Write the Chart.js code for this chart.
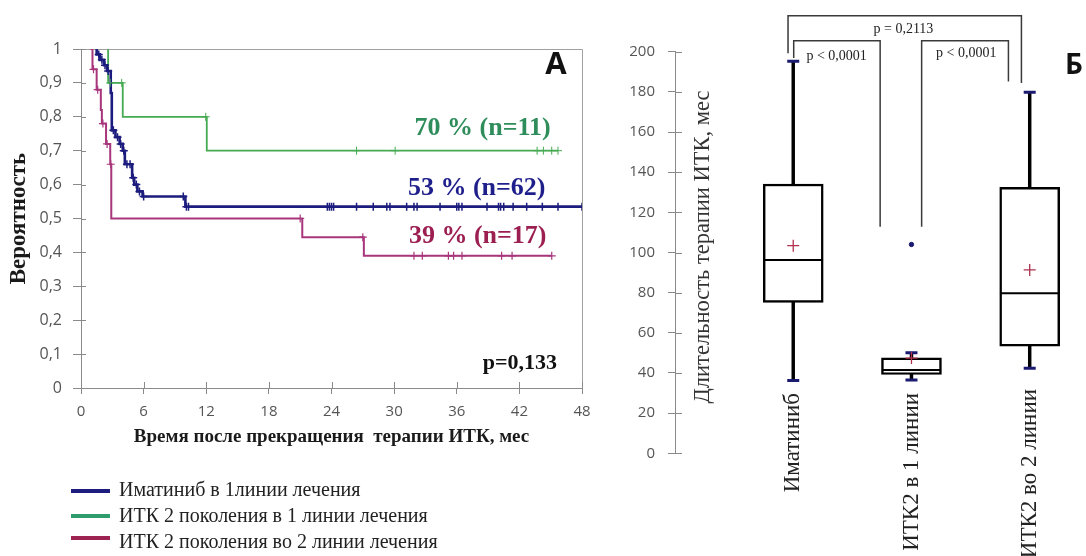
<!DOCTYPE html>
<html><head><meta charset="utf-8">
<script src="https://cdn.jsdelivr.net/npm/chart.js@4.4.1/dist/chart.umd.min.js"></script>
<style>
html,body{margin:0;padding:0;background:#fff;}
#wrap{position:relative;width:1086px;height:556px;overflow:hidden;background:#fff;}
#pa{position:absolute;left:0;top:0;width:600px;height:556px;}
#pb{position:absolute;left:600px;top:0;width:486px;height:556px;}
</style></head><body>
<div id="wrap">
  <div id="pa"><canvas id="cA" width="600" height="556"></canvas></div>
  <div id="pb"><canvas id="cB" width="486" height="556"></canvas></div>
</div>
<script>
// ---------- Panel A data (Kaplan-Meier) ----------
const seriesLabels = ['Иматиниб в 1линии лечения', 'ИТК 2 поколения в 1 линии лечения', 'ИТК 2 поколения во 2 линии лечения'];
const curveNotes = ['53 % (n=62)', '70 % (n=11)', '39 % (n=17)'];
const pNoteA = 'p=0,133';
const panelLetterA = 'A';

const imatTime = [1.5, 1.5, 1.8, 2.2, 2.5, 2.85, 2.95, 3.3, 3.7, 4.0, 4.2, 4.9, 5.1, 5.4, 5.9, 10.0, 48];
const imatSurv = [1.0, 0.984, 0.968, 0.952, 0.935, 0.87, 0.76, 0.74, 0.72, 0.70, 0.66, 0.62, 0.60, 0.58, 0.565, 0.535, 0.535];
const imatCensor = [1.7, 2.0, 2.3, 2.6, 3.1, 3.5, 3.8, 4.1, 4.4, 4.7, 5.0, 5.3, 5.6, 6.0, 9.8, 10.1, 10.3,
  23.6, 23.8, 24.0, 24.2, 26.4, 28.0, 29.3, 29.6, 31.2, 31.9, 32.2, 34.4, 36.0, 36.2, 36.5, 38.9, 40.0, 40.2, 40.5, 41.4, 42.7, 44.2, 45.7, 48];

const gen1Time = [2.6, 2.6, 4.0, 12.05, 45.7];
const gen1Surv = [1.0, 0.9, 0.8, 0.7, 0.7];
const gen1Censor = [2.8, 3.9, 11.95, 26.4, 30.1, 43.7, 44.3, 45.1, 45.7];

const gen2Time = [0.9, 1.1, 1.5, 1.9, 2.0, 2.4, 2.8, 2.9, 21.2, 27.1, 45.1];
const gen2Surv = [1.0, 0.94, 0.88, 0.82, 0.78, 0.72, 0.66, 0.5, 0.445, 0.39, 0.39];
const gen2Censor = [1.2, 1.6, 2.1, 2.5, 2.85, 21.0, 27.0, 31.9, 32.7, 35.2, 35.7, 36.5, 40.3, 41.3, 45.1];

// ---------- Panel B data (box plots) ----------
const categories = ['Иматиниб', 'ИТК2 в 1 линии', 'ИТК2 во 2 линии'];
const boxMin    = [36.2, 36.5, 42.3];
const boxQ1     = [75.2, 39.3, 53.4];
const boxMedian = [96.3, 41.5, 79.7];
const boxQ3     = [134.1, 47.6, 132.5];
const boxMax    = [195.2, 50.1, 179.8];
const boxMean   = [103.4, 47.4, 91.3];
const outlierCat = [2];
const outlierVal = [104];
const pValuesB = ['p = 0,2113', 'p < 0,0001', 'p < 0,0001'];
const yTitleB = 'Длительность терапии ИТК, мес';
const panelLetterB = 'Б';

// ---------- styles ----------
const SERIF = '"Liberation Serif", "DejaVu Serif", serif';
const SANS = '"Open Sans", "Liberation Sans", sans-serif';
const BLUE = '#1c1c7e', GREEN = '#46aa52', MAG = '#a8367c';
const BLUE_T = '#1f1f8c', GREEN_T = '#2f8d5c', MAG_T = '#9c1f52';
const LEG_COL = ['#1d1d80', '#2e9c6c', '#9c2352'];
const AXIS = '#8a8a8a';

function survAt(times, surv, t) {
  let s = surv[0];
  for (let i = 0; i < times.length; i++) if (times[i] <= t) s = surv[i];
  return s;
}
const kmPts = (times, surv) => times.map((t, i) => ({x: t, y: surv[i]}));
const censorPts = (times, surv, cens) => cens.map(t => ({x: t, y: survAt(times, surv, t)}));

const innerTicks = {
  id: 'innerTicks',
  afterDraw(chart, args, opts) {
    const ctx = chart.ctx, ca = chart.chartArea;
    ctx.save(); ctx.strokeStyle = AXIS; ctx.lineWidth = 1;
    if (opts.x) {
      const xs = chart.scales.x;
      xs.ticks.forEach(t => { const px = Math.round(xs.getPixelForValue(t.value)) + 0.5;
        ctx.beginPath(); ctx.moveTo(px, ca.bottom); ctx.lineTo(px, ca.bottom - opts.x); ctx.stroke(); });
    }
    if (opts.y) {
      const ys = chart.scales.y;
      ys.ticks.forEach(t => { const py = Math.round(ys.getPixelForValue(t.value)) + 0.5;
        ctx.beginPath(); ctx.moveTo(ca.left, py); ctx.lineTo(ca.left + opts.y, py); ctx.stroke(); });
    }
    ctx.restore();
  }
};

const frameA = {
  id: 'frameA',
  beforeDatasetsDraw(chart) {
    const ctx = chart.ctx, ca = chart.chartArea;
    ctx.save(); ctx.strokeStyle = '#a0a0a0'; ctx.lineWidth = 1;
    ctx.beginPath();
    ctx.moveTo(Math.round(ca.left) + 0.5, Math.round(ca.top) + 0.5);
    ctx.lineTo(Math.round(ca.right) + 0.5, Math.round(ca.top) + 0.5);
    ctx.lineTo(Math.round(ca.right) + 0.5, Math.round(ca.bottom) + 0.5);
    ctx.stroke(); ctx.restore();
  }
};

const notesA = {
  id: 'notesA',
  afterDraw(chart) {
    const ctx = chart.ctx, xs = chart.scales.x, ys = chart.scales.y;
    ctx.save();
    ctx.textBaseline = 'middle'; ctx.textAlign = 'right';
    ctx.font = 'bold 26px ' + SERIF;
    ctx.fillStyle = GREEN_T; ctx.fillText(curveNotes[1], xs.getPixelForValue(45.0), ys.getPixelForValue(0.766));
    ctx.fillStyle = BLUE_T;  ctx.fillText(curveNotes[0], xs.getPixelForValue(44.5), ys.getPixelForValue(0.589));
    ctx.fillStyle = MAG_T;   ctx.fillText(curveNotes[2], xs.getPixelForValue(44.6), ys.getPixelForValue(0.447));
    ctx.font = 'bold 22px ' + SERIF; ctx.fillStyle = '#111';
    ctx.fillText(pNoteA, xs.getPixelForValue(45.6), ys.getPixelForValue(0.072));
    ctx.font = 'bold 31px ' + SANS; ctx.textAlign = 'center';
    ctx.fillText(panelLetterA, xs.getPixelForValue(45.5), ys.getPixelForValue(0.952));
    // legend
    const ly = [491, 516, 538], ty = [491, 517, 543];
    ctx.textAlign = 'left'; ctx.font = '20px ' + SERIF; ctx.fillStyle = '#222';
    seriesLabels.forEach((lab, i) => {
      ctx.strokeStyle = LEG_COL[i]; ctx.lineWidth = 4;
      ctx.beginPath(); ctx.moveTo(71, ly[i]); ctx.lineTo(110, ly[i]); ctx.stroke();
      ctx.fillText(lab, 119, ty[i]);
    });
    ctx.restore();
  }
};

function censorSet(times, surv, cens, color, w) {
  return {label: '', data: censorPts(times, surv, cens), showLine: false, pointStyle: 'cross',
    pointRadius: 4, pointBorderColor: color, pointBackgroundColor: color, pointBorderWidth: w, order: 0};
}

new Chart(document.getElementById('cA'), {
  type: 'line',
  data: {datasets: [
    {label: seriesLabels[1], data: kmPts(gen1Time, gen1Surv), borderColor: GREEN, borderWidth: 1.8, stepped: 'before', pointRadius: 0, order: 3},
    {label: seriesLabels[2], data: kmPts(gen2Time, gen2Surv), borderColor: MAG, borderWidth: 2, stepped: 'before', pointRadius: 0, order: 2},
    {label: seriesLabels[0], data: kmPts(imatTime, imatSurv), borderColor: BLUE, borderWidth: 2.6, stepped: 'before', pointRadius: 0, order: 1},
    censorSet(gen1Time, gen1Surv, gen1Censor, GREEN, 1),
    censorSet(gen2Time, gen2Surv, gen2Censor, MAG, 1.2),
    censorSet(imatTime, imatSurv, imatCensor, BLUE, 1.5)
  ]},
  options: {
    responsive: false, animation: false,
    layout: {padding: {left: 0, top: 49, right: 18, bottom: 108}},
    scales: {
      x: {type: 'linear', min: 0, max: 48,
        afterFit: s => { s.height = 60; },
        ticks: {stepSize: 6, color: '#555', font: {family: SANS, size: 15}, padding: 9},
        grid: {drawOnChartArea: false, tickLength: 6, color: AXIS},
        border: {color: AXIS},
        title: {display: true, text: 'Время после прекращения  терапии ИТК, мес', color: '#1a1a1a',
          font: {family: SERIF, size: 19, weight: 'bold'}, padding: {top: 0, bottom: 0}}},
      y: {min: 0, max: 1,
        afterFit: s => { s.width = 81; },
        ticks: {stepSize: 0.1, color: '#555', font: {family: SANS, size: 16}, padding: 11,
          callback: v => (Math.abs(v) < 1e-9 ? '0' : Math.abs(v - 1) < 1e-9 ? '1' : v.toFixed(1).replace('.', ','))},
        grid: {drawOnChartArea: false, tickLength: 8, color: AXIS},
        border: {color: AXIS},
        title: {display: true, text: 'Вероятность', color: '#1a1a1a',
          font: {family: SERIF, size: 23, weight: 'bold'}, padding: {top: 5, bottom: 0}}}
    },
    plugins: {legend: {display: false}, tooltip: {enabled: false}, innerTicks: {x: 6, y: 5}}
  },
  plugins: [frameA, innerTicks, notesA]
});

// ---------- Panel B ----------
const NAVY = '#1a1a70', BLK = '#000';
const pos = categories.map((c, i) => i + 1);
const brackets = [
  [{x: 0.956, y: 199.2}, {x: 0.956, y: 217.9}, {x: 2.930, y: 217.9}, {x: 2.930, y: 184.4}],
  [{x: 1.004, y: 196.9}, {x: 1.004, y: 205.5}, {x: 1.735, y: 205.5}, {x: 1.735, y: 112.8}],
  [{x: 2.086, y: 112.8}, {x: 2.086, y: 205.5}, {x: 2.820, y: 205.5}, {x: 2.820, y: 185.1}]
];
const pLabelPos = [{x: 1.932, y: 211.3}, {x: 1.367, y: 197.9}, {x: 2.463, y: 199.4}];

const notesB = {
  id: 'notesB',
  afterDraw(chart) {
    const ctx = chart.ctx, xs = chart.scales.x, ys = chart.scales.y;
    ctx.save();
    ctx.fillStyle = '#222'; ctx.textBaseline = 'middle';
    ctx.font = '14px ' + SERIF; ctx.textAlign = 'center';
    pValuesB.forEach((t, i) => ctx.fillText(t, xs.getPixelForValue(pLabelPos[i].x), ys.getPixelForValue(pLabelPos[i].y)));
    ctx.font = '23px ' + SERIF; ctx.fillStyle = '#222';
    const tops = [393, 393, 389];
    categories.forEach((c, i) => {
      ctx.save(); ctx.translate(xs.getPixelForValue(pos[i]), tops[i]); ctx.rotate(-Math.PI / 2);
      ctx.textAlign = 'right'; ctx.fillText(c, 0, 0); ctx.restore();
    });
    ctx.save(); ctx.font = '22.5px ' + SERIF; ctx.fillStyle = '#333';
    ctx.translate(103, 247); ctx.rotate(-Math.PI / 2); ctx.textAlign = 'center';
    ctx.fillText(yTitleB, 0, 0); ctx.restore();
    ctx.font = 'bold 28px ' + SANS; ctx.fillStyle = '#111'; ctx.textAlign = 'center';
    ctx.fillText(panelLetterB, 474, 66);
    ctx.restore();
  }
};

const bDatasets = [
  {type: 'line', label: 'mean', data: pos.map((p, i) => ({x: p, y: boxMean[i]})), showLine: false,
    pointStyle: 'cross', pointRadius: 6, pointBorderColor: '#b0304e', pointBorderWidth: 1.3, order: 0},
  {type: 'line', label: 'caps', data: pos.map((p, i) => ({x: p, y: boxMax[i]})).concat(pos.map((p, i) => ({x: p, y: boxMin[i]}))),
    showLine: false, pointStyle: 'line', pointRadius: 6, pointBorderColor: NAVY, pointBorderWidth: 3, order: 1},
  {type: 'line', label: 'outliers', data: outlierCat.map((c, i) => ({x: c, y: outlierVal[i]})), showLine: false,
    pointStyle: 'circle', pointRadius: 2.2, pointBackgroundColor: NAVY, pointBorderColor: NAVY, order: 1},
  {type: 'bar', label: 'lower box', data: pos.map((p, i) => ({x: p, y: [boxQ1[i], boxMedian[i]]})),
    backgroundColor: '#fff', borderColor: BLK, borderWidth: {top: 1.3, bottom: 2.5, left: 2.5, right: 2.5},
    borderSkipped: false, barThickness: 60, grouped: false, order: 2},
  {type: 'bar', label: 'upper box', data: pos.map((p, i) => ({x: p, y: [boxMedian[i], boxQ3[i]]})),
    backgroundColor: '#fff', borderColor: BLK, borderWidth: {top: 2.5, bottom: 1.3, left: 2.5, right: 2.5},
    borderSkipped: false, barThickness: 60, grouped: false, order: 2},
  {type: 'bar', label: 'upper whisker', data: pos.map((p, i) => ({x: p, y: [boxQ3[i], boxMax[i]]})),
    backgroundColor: BLK, borderWidth: 0, barThickness: 2.8, grouped: false, order: 3},
  {type: 'bar', label: 'lower whisker', data: pos.map((p, i) => ({x: p, y: [boxMin[i], boxQ1[i]]})),
    backgroundColor: BLK, borderWidth: 0, barThickness: 2.8, grouped: false, order: 3}
].concat(brackets.map(b => ({type: 'line', label: 'bracket', data: b, borderColor: '#3a3a3a', borderWidth: 1.5,
  pointRadius: 0, clip: false, order: 4})));

new Chart(document.getElementById('cB'), {
  type: 'bar',
  data: {datasets: bDatasets},
  options: {
    responsive: false, animation: false,
    layout: {padding: {left: 0, top: 51.7, right: 8, bottom: 102.7}},
    scales: {
      x: {type: 'linear', min: 0, max: 3.4, offset: false, display: false},
      y: {min: 0, max: 200,
        afterFit: s => { s.width = 75; },
        ticks: {stepSize: 20, color: '#555', font: {family: SANS, size: 15}, padding: 13},
        grid: {drawOnChartArea: false, tickLength: 7, color: AXIS},
        border: {color: AXIS}}
    },
    plugins: {legend: {display: false}, tooltip: {enabled: false}, innerTicks: {x: 0, y: 7}}
  },
  plugins: [innerTicks, notesB]
});
</script>
</body></html>
